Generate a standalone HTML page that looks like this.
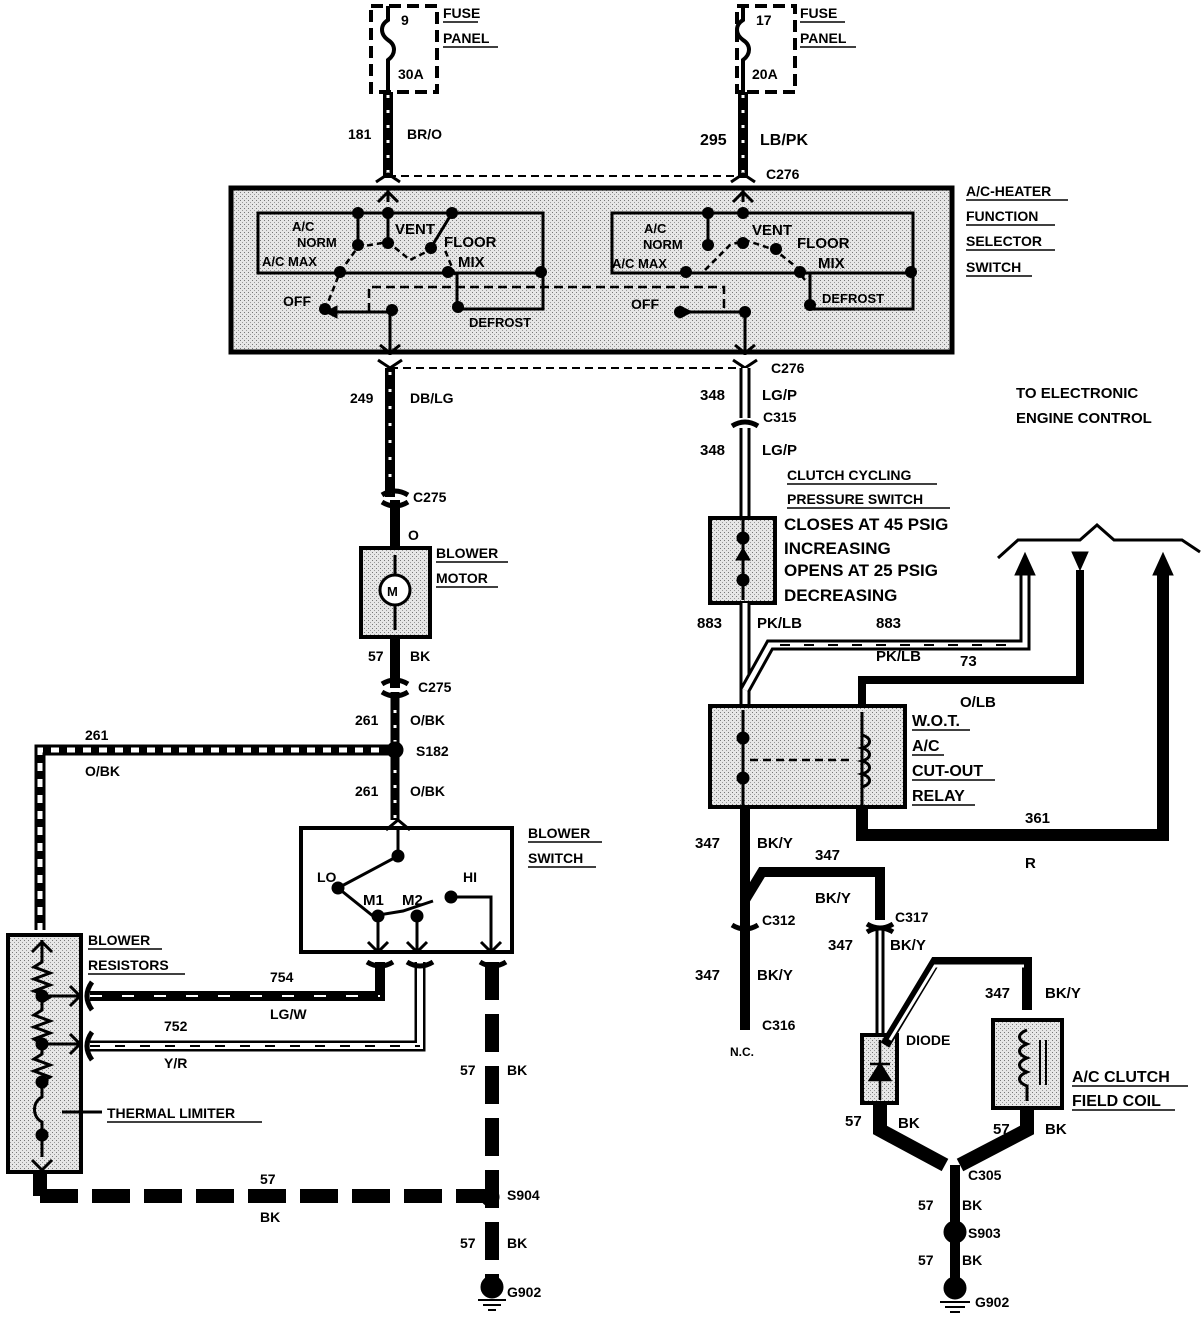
<!DOCTYPE html>
<html><head><style>
html,body{margin:0;padding:0;background:#fff;}
svg{display:block;}
text{font-family:"Liberation Sans",Arial,sans-serif;font-weight:bold;fill:#000;}
</style></head><body>
<svg width="1202" height="1328" viewBox="0 0 1202 1328" xmlns="http://www.w3.org/2000/svg">
<defs>
<pattern id="st" width="4" height="4" patternUnits="userSpaceOnUse"><rect width="4" height="4" fill="#e6e6e6"/><rect width="1" height="1" fill="#777"/><rect x="2" y="2" width="1" height="1" fill="#999"/></pattern>
</defs>
<g fill="none" stroke="#000">
<rect x="371" y="6" width="66" height="86" stroke-width="4" stroke-dasharray="12 6"/>
<rect x="737" y="6" width="58" height="86" stroke-width="4" stroke-dasharray="12 6"/>
<path d="M388 6 v14 c-8 5 -8 14 0 20 c8 5 8 14 0 20 v32" stroke-width="4"/>
<path d="M743 6 v14 c-8 5 -8 14 0 20 c8 5 8 14 0 20 v32" stroke-width="4"/>
<line x1="388" y1="92" x2="388" y2="178" stroke-width="10"/>
<line x1="388" y1="95" x2="388" y2="176" stroke="#fff" stroke-width="3" stroke-dasharray="3 12"/>
<line x1="743" y1="92" x2="743" y2="178" stroke-width="10"/>
<line x1="743" y1="95" x2="743" y2="176" stroke="#fff" stroke-width="3" stroke-dasharray="3 12"/>
<line x1="388" y1="176" x2="743" y2="176" stroke-width="2" stroke-dasharray="8 5"/>
<line x1="390" y1="368" x2="745" y2="368" stroke-width="2" stroke-dasharray="8 5"/>
<path d="M376 182 l12 -8 l12 8 M731 182 l12 -8 l12 8 M378 360 l12 8 l12 -8 M733 360 l12 8 l12 -8" stroke-width="3"/>
<rect x="231" y="188" width="721" height="164" fill="url(#st)" stroke-width="5"/>
<rect x="258" y="213" width="285" height="60" stroke-width="3"/>
<rect x="612" y="213" width="301" height="60" stroke-width="3"/>
<rect x="457" y="273" width="86" height="36" stroke-width="3"/>
<rect x="810" y="273" width="103" height="36" stroke-width="3"/>
<path d="M369 312 v-25 h355 v25" stroke-width="2.5" stroke-dasharray="9 5"/>
<path d="M388 188 v14 M743 188 v14 M390 310 v45 M745 310 v45" stroke-width="3"/>
<path d="M378 202 l10 -10 l10 10 M733 202 l10 -10 l10 10 M380 345 l10 8 l10 -8 M735 345 l10 8 l10 -8" stroke-width="3"/>
<path d="M340 272 l18 -25 l30 -5 l22 18 l20 -10 M705 270 l25 -25 l15 -5 l30 10 l25 20 M325 310 l15 -38 M455 275 l-10 -25 M805 280 l-8 -10" stroke-width="2.5" stroke-dasharray="6 4"/>
<path d="M358 213 v32 M452 213 l-20 33 M708 213 v32 M325 312 h65 M675 312 h70 M388 213 h65 M708 213 h35 M388 213 v30" stroke-width="3"/>
<path d="M325 312 l12 -6 v12z M692 312 l-12 -6 v12z" fill="#000" stroke-width="1"/>
<g fill="#000" stroke="none">
<circle cx="358" cy="213" r="6"/><circle cx="388" cy="213" r="6"/><circle cx="452" cy="213" r="6"/><circle cx="358" cy="245" r="6"/><circle cx="388" cy="243" r="6"/><circle cx="431" cy="248" r="6"/><circle cx="340" cy="272" r="6"/><circle cx="448" cy="272" r="6"/><circle cx="541" cy="272" r="6"/><circle cx="325" cy="309" r="6"/><circle cx="392" cy="310" r="6"/><circle cx="458" cy="307" r="6"/>
<circle cx="708" cy="213" r="6"/><circle cx="743" cy="213" r="6"/><circle cx="708" cy="245" r="6"/><circle cx="743" cy="243" r="6"/><circle cx="776" cy="249" r="6"/><circle cx="686" cy="272" r="6"/><circle cx="800" cy="272" r="6"/><circle cx="911" cy="272" r="6"/><circle cx="680" cy="312" r="6"/><circle cx="745" cy="312" r="6"/><circle cx="810" cy="305" r="6"/>
</g>
<line x1="390" y1="368" x2="390" y2="497" stroke-width="10"/>
<line x1="390" y1="372" x2="390" y2="495" stroke="#fff" stroke-width="3" stroke-dasharray="3 14"/>
<line x1="395" y1="500" x2="395" y2="548" stroke-width="10"/>
<rect x="361" y="548" width="69" height="89" fill="url(#st)" stroke-width="4"/>
<circle cx="395" cy="590" r="15" fill="#fff" stroke-width="3"/>
<line x1="395" y1="555" x2="395" y2="575" stroke-width="3"/><line x1="395" y1="605" x2="395" y2="630" stroke-width="3"/>
<line x1="395" y1="637" x2="395" y2="688" stroke-width="10"/>
<line x1="395" y1="692" x2="395" y2="820" stroke-width="9"/>
<line x1="395" y1="695" x2="395" y2="818" stroke="#fff" stroke-width="3" stroke-dasharray="3 12"/>
<path d="M382 495 q13 -8 26 0 M382 502 q13 8 26 0 M382 684 q13 -8 26 0 M382 692 q13 8 26 0" stroke-width="5"/>
<path d="M395 750 H40 V930" stroke-width="11"/>
<path d="M395 750 H40 V930" stroke="#fff" stroke-width="5" stroke-dasharray="8 8"/>
<circle cx="395" cy="750" r="8" fill="#000"/>
<rect x="301" y="828" width="211" height="124" fill="#fff" stroke-width="4"/>
<path d="M398 828 v28 M398 856 l-60 32 M338 888 l35 28 l30 -5 l30 -10 M451 897 h40 v55 M378 916 v36 M417 916 v36" stroke-width="3"/>
<path d="M386 830 l12 -10 l12 10 M368 942 l10 10 l10 -10 M407 942 l10 10 l10 -10 M481 942 l10 10 l10 -10" stroke-width="3"/>
<g fill="#000"><circle cx="398" cy="856" r="6"/><circle cx="338" cy="888" r="6"/><circle cx="451" cy="897" r="6"/><circle cx="378" cy="916" r="6"/><circle cx="417" cy="916" r="6"/></g>
<rect x="8" y="935" width="73" height="237" fill="url(#st)" stroke-width="4"/>
<path d="M42 940 v22 l-8 5 l16 6 l-16 6 l16 6 l-16 6 l16 6 l-8 5 v8 l-8 5 l16 6 l-16 6 l16 6 l-16 6 l8 5 v10 l-8 5 l16 6 l-16 6 l16 6 l-8 5 v15 c-10 5 -10 20 0 25 v35" stroke-width="3"/>
<path d="M42 996 h40 M42 1044 h40 M62 1112 h40" stroke-width="3"/>
<path d="M32 952 l10 -10 l10 10 M32 1160 l10 10 l10 -10 M70 986 l10 10 l-10 10 M70 1034 l10 10 l-10 10" stroke-width="3"/>
<g fill="#000"><circle cx="42" cy="996" r="6"/><circle cx="42" cy="1044" r="6"/><circle cx="42" cy="1082" r="6"/><circle cx="42" cy="1135" r="6"/></g>
<path d="M90 996 H380 V962" stroke-width="10"/>
<path d="M90 996 H380" stroke="#fff" stroke-width="2" stroke-dasharray="12 20"/>
<path d="M90 1046 H420 V962" stroke-width="11"/>
<path d="M90 1046 H420 V962" stroke="#fff" stroke-width="6"/>
<path d="M90 1046 H420" stroke="#000" stroke-width="2" stroke-dasharray="10 15"/>
<path d="M92 982 q-10 14 0 28 M92 1032 q-10 14 0 28" stroke-width="5"/>
<path d="M367 962 q13 8 26 0 M407 962 q13 8 26 0 M480 962 q13 8 26 0" stroke-width="5"/>
<line x1="492" y1="962" x2="492" y2="1290" stroke-width="14" stroke-dasharray="38 14"/>
<line x1="40" y1="1196" x2="492" y2="1196" stroke-width="14" stroke-dasharray="38 14"/>
<path d="M40 1172 v24" stroke-width="14"/>
<circle cx="490" cy="1197" r="9" fill="#000"/>
<circle cx="492" cy="1287" r="11" fill="#000"/>
<path d="M478 1300 h28 M483 1305 h18 M488 1310 h8" stroke-width="2"/>
<line x1="745" y1="368" x2="745" y2="418" stroke-width="11"/>
<line x1="745" y1="368" x2="745" y2="418" stroke="#fff" stroke-width="5"/>
<line x1="745" y1="428" x2="745" y2="518" stroke-width="11"/>
<line x1="745" y1="428" x2="745" y2="518" stroke="#fff" stroke-width="5"/>
<path d="M732 426 q13 -8 26 0" stroke-width="5"/>
<rect x="710" y="518" width="65" height="85" fill="url(#st)" stroke-width="4"/>
<path d="M743 520 v80" stroke-width="3"/>
<g fill="#000"><circle cx="743" cy="538" r="6"/><circle cx="743" cy="580" r="6"/><path d="M736 560 h14 l-7 -12z"/></g>
<path d="M745 603 V705" stroke-width="11"/>
<path d="M745 603 V705" stroke="#fff" stroke-width="5"/>
<path d="M745 690 L770 645 H1025 V570" stroke-width="11"/>
<path d="M745 690 L770 645 H1025 V570" stroke="#fff" stroke-width="5"/>
<path d="M780 645 H1020" stroke-width="2" stroke-dasharray="10 14"/>
<path d="M1025 575 l-10 0 l10 -22 l10 22z" fill="#000"/>
<path d="M862 705 V680 H1080 V570" stroke-width="8"/>
<path d="M1072 552 h16 l-8 18z" fill="#000"/>
<path d="M862 807 V835 H1163 V570" stroke-width="12"/>
<path d="M1153 575 l10 -22 l10 22z" fill="#000"/>
<path d="M998 558 L1018 540 H1080 L1097 525 L1114 540 H1182 L1200 552" stroke-width="3"/>
<rect x="710" y="706" width="195" height="101" fill="url(#st)" stroke-width="4"/>
<path d="M743 710 v95 M862 712 v95" stroke-width="3"/>
<path d="M750 760 h100" stroke-width="2.5" stroke-dasharray="8 5"/>
<path d="M862 735 c10 3 10 10 0 13 c10 3 10 10 0 13 c10 3 10 10 0 13 c10 3 10 10 0 13" stroke-width="3"/>
<g fill="#000"><circle cx="743" cy="738" r="6"/><circle cx="743" cy="778" r="6"/></g>
<path d="M745 807 V1030" stroke-width="10"/>
<path d="M745 900 L762 872 H880 V920" stroke-width="10"/>
<path d="M880 930 V1035" stroke-width="9"/>
<path d="M880 930 V1035" stroke="#fff" stroke-width="3"/>
<path d="M732 925 q13 8 26 0 M867 924 q13 8 26 0 M867 932 q13 -8 26 0" stroke-width="5"/>
<rect x="862" y="1035" width="35" height="68" fill="url(#st)" stroke-width="4"/>
<path d="M880 1040 v60 M870 1080 h20 l-10 -16z M870 1064 h20" stroke-width="2.5" fill="#000"/>
<path d="M885 1045 L935 962 H1027 V1010" stroke-width="10"/>
<path d="M890 1040 L935 966 H1024" stroke="#fff" stroke-width="3"/>
<rect x="993" y="1020" width="69" height="88" fill="url(#st)" stroke-width="4"/>
<path d="M1027 1030 c-10 4 -10 10 0 14 c-10 4 -10 10 0 14 c-10 4 -10 10 0 14 c-10 4 -10 10 0 14 v15" stroke-width="3"/>
<path d="M1040 1040 v45 M1046 1040 v45" stroke-width="2"/>
<path d="M880 1103 V1130 L945 1165 M1027 1108 V1130 L960 1165" stroke-width="14"/>
<path d="M955 1165 V1290" stroke-width="10"/>
<circle cx="955" cy="1232" r="11" fill="#000"/>
<circle cx="955" cy="1288" r="11" fill="#000"/>
<path d="M940 1302 h30 M945 1307 h20 M950 1312 h10" stroke-width="2"/>
</g>
<g font-size="14">
<text x="401" y="25">9</text><text x="398" y="79">30A</text>
<text x="443" y="18">FUSE</text><text x="443" y="43">PANEL</text>
<text x="756" y="25">17</text><text x="752" y="79">20A</text>
<text x="800" y="18">FUSE</text><text x="800" y="43">PANEL</text>
<text x="348" y="139">181</text><text x="407" y="139">BR/O</text>
<text x="700" y="145" font-size="16">295</text><text x="760" y="145" font-size="16">LB/PK</text>
<text x="766" y="179">C276</text><text x="771" y="373">C276</text>
<text x="966" y="196">A/C-HEATER</text><text x="966" y="221">FUNCTION</text><text x="966" y="246">SELECTOR</text><text x="966" y="272">SWITCH</text>
<text x="292" y="231" font-size="13">A/C</text><text x="297" y="247" font-size="13">NORM</text><text x="262" y="266" font-size="13">A/C MAX</text>
<text x="395" y="234" font-size="15">VENT</text><text x="444" y="247" font-size="15">FLOOR</text><text x="458" y="267" font-size="15">MIX</text>
<text x="283" y="306">OFF</text><text x="469" y="327" font-size="13">DEFROST</text>
<text x="644" y="233" font-size="13">A/C</text><text x="643" y="249" font-size="13">NORM</text><text x="612" y="268" font-size="13">A/C MAX</text>
<text x="752" y="235" font-size="15">VENT</text><text x="797" y="248" font-size="15">FLOOR</text><text x="818" y="268" font-size="15">MIX</text>
<text x="631" y="309">OFF</text><text x="822" y="303" font-size="13">DEFROST</text>
<text x="350" y="403">249</text><text x="410" y="403">DB/LG</text>
<text x="700" y="400" font-size="15">348</text><text x="762" y="400" font-size="15">LG/P</text><text x="763" y="422">C315</text>
<text x="700" y="455" font-size="15">348</text><text x="762" y="455" font-size="15">LG/P</text>
<text x="1016" y="398" font-size="15">TO ELECTRONIC</text><text x="1016" y="423" font-size="15">ENGINE CONTROL</text>
<text x="787" y="480">CLUTCH CYCLING</text><text x="787" y="504">PRESSURE SWITCH</text>
<text x="784" y="530" font-size="17">CLOSES AT 45 PSIG</text><text x="784" y="554" font-size="17">INCREASING</text><text x="784" y="576" font-size="17">OPENS AT 25 PSIG</text><text x="784" y="601" font-size="17">DECREASING</text>
<text x="413" y="502">C275</text><text x="408" y="540">O</text>
<text x="387" y="596" font-size="13">M</text>
<text x="436" y="558">BLOWER</text><text x="436" y="583">MOTOR</text>
<text x="368" y="661">57</text><text x="410" y="661">BK</text><text x="418" y="692">C275</text>
<text x="355" y="725">261</text><text x="410" y="725">O/BK</text>
<text x="85" y="740">261</text><text x="85" y="776">O/BK</text><text x="416" y="756">S182</text>
<text x="355" y="796">261</text><text x="410" y="796">O/BK</text>
<text x="528" y="838">BLOWER</text><text x="528" y="863">SWITCH</text>
<text x="317" y="882">LO</text><text x="463" y="882">HI</text><text x="363" y="905" font-size="15">M1</text><text x="402" y="905" font-size="15">M2</text>
<text x="88" y="945">BLOWER</text><text x="88" y="970">RESISTORS</text>
<text x="270" y="982">754</text><text x="270" y="1019">LG/W</text>
<text x="164" y="1031">752</text><text x="164" y="1068">Y/R</text>
<text x="107" y="1118">THERMAL LIMITER</text>
<text x="460" y="1075">57</text><text x="507" y="1075">BK</text>
<text x="260" y="1184">57</text><text x="260" y="1222">BK</text><text x="507" y="1200">S904</text>
<text x="460" y="1248">57</text><text x="507" y="1248">BK</text><text x="507" y="1297">G902</text>
<text x="697" y="628" font-size="15">883</text><text x="757" y="628" font-size="15">PK/LB</text>
<text x="876" y="628" font-size="15">883</text><text x="876" y="661" font-size="15">PK/LB</text>
<text x="960" y="666" font-size="15">73</text><text x="960" y="707" font-size="15">O/LB</text>
<text x="912" y="726" font-size="16">W.O.T.</text><text x="912" y="751" font-size="16">A/C</text><text x="912" y="776" font-size="16">CUT-OUT</text><text x="912" y="801" font-size="16">RELAY</text>
<text x="1025" y="823" font-size="15">361</text><text x="1025" y="868" font-size="15">R</text>
<text x="695" y="848" font-size="15">347</text><text x="757" y="848" font-size="15">BK/Y</text>
<text x="815" y="860" font-size="15">347</text><text x="815" y="903" font-size="15">BK/Y</text>
<text x="762" y="925">C312</text><text x="895" y="922">C317</text>
<text x="828" y="950" font-size="15">347</text><text x="890" y="950" font-size="15">BK/Y</text>
<text x="695" y="980" font-size="15">347</text><text x="757" y="980" font-size="15">BK/Y</text>
<text x="762" y="1030">C316</text><text x="730" y="1056" font-size="12">N.C.</text>
<text x="985" y="998" font-size="15">347</text><text x="1045" y="998" font-size="15">BK/Y</text>
<text x="906" y="1045">DIODE</text>
<text x="1072" y="1082" font-size="16">A/C CLUTCH</text><text x="1072" y="1106" font-size="16">FIELD COIL</text>
<text x="845" y="1126" font-size="15">57</text><text x="898" y="1128" font-size="15">BK</text>
<text x="993" y="1134" font-size="15">57</text><text x="1045" y="1134" font-size="15">BK</text>
<text x="968" y="1180">C305</text>
<text x="918" y="1210">57</text><text x="962" y="1210">BK</text><text x="968" y="1238">S903</text>
<text x="918" y="1265">57</text><text x="962" y="1265">BK</text><text x="975" y="1307">G902</text>
</g>
<g stroke="#000" stroke-width="1.5">
<line x1="443" y1="22" x2="478" y2="22"/><line x1="443" y1="47" x2="498" y2="47"/>
<line x1="800" y1="22" x2="845" y2="22"/><line x1="800" y1="47" x2="856" y2="47"/>
<line x1="436" y1="562" x2="508" y2="562"/><line x1="436" y1="587" x2="498" y2="587"/>
<line x1="528" y1="842" x2="602" y2="842"/><line x1="528" y1="867" x2="596" y2="867"/>
<line x1="88" y1="949" x2="162" y2="949"/><line x1="88" y1="974" x2="185" y2="974"/>
<line x1="107" y1="1122" x2="262" y2="1122"/>
<line x1="966" y1="200" x2="1068" y2="200"/><line x1="966" y1="225" x2="1055" y2="225"/><line x1="966" y1="250" x2="1055" y2="250"/><line x1="966" y1="276" x2="1032" y2="276"/>
<line x1="787" y1="484" x2="937" y2="484"/><line x1="787" y1="508" x2="950" y2="508"/>
<line x1="912" y1="730" x2="970" y2="730"/><line x1="912" y1="755" x2="944" y2="755"/><line x1="912" y1="780" x2="995" y2="780"/><line x1="912" y1="805" x2="975" y2="805"/>
<line x1="1072" y1="1086" x2="1188" y2="1086"/><line x1="1072" y1="1110" x2="1175" y2="1110"/>
</g>
</svg>
</body></html>
